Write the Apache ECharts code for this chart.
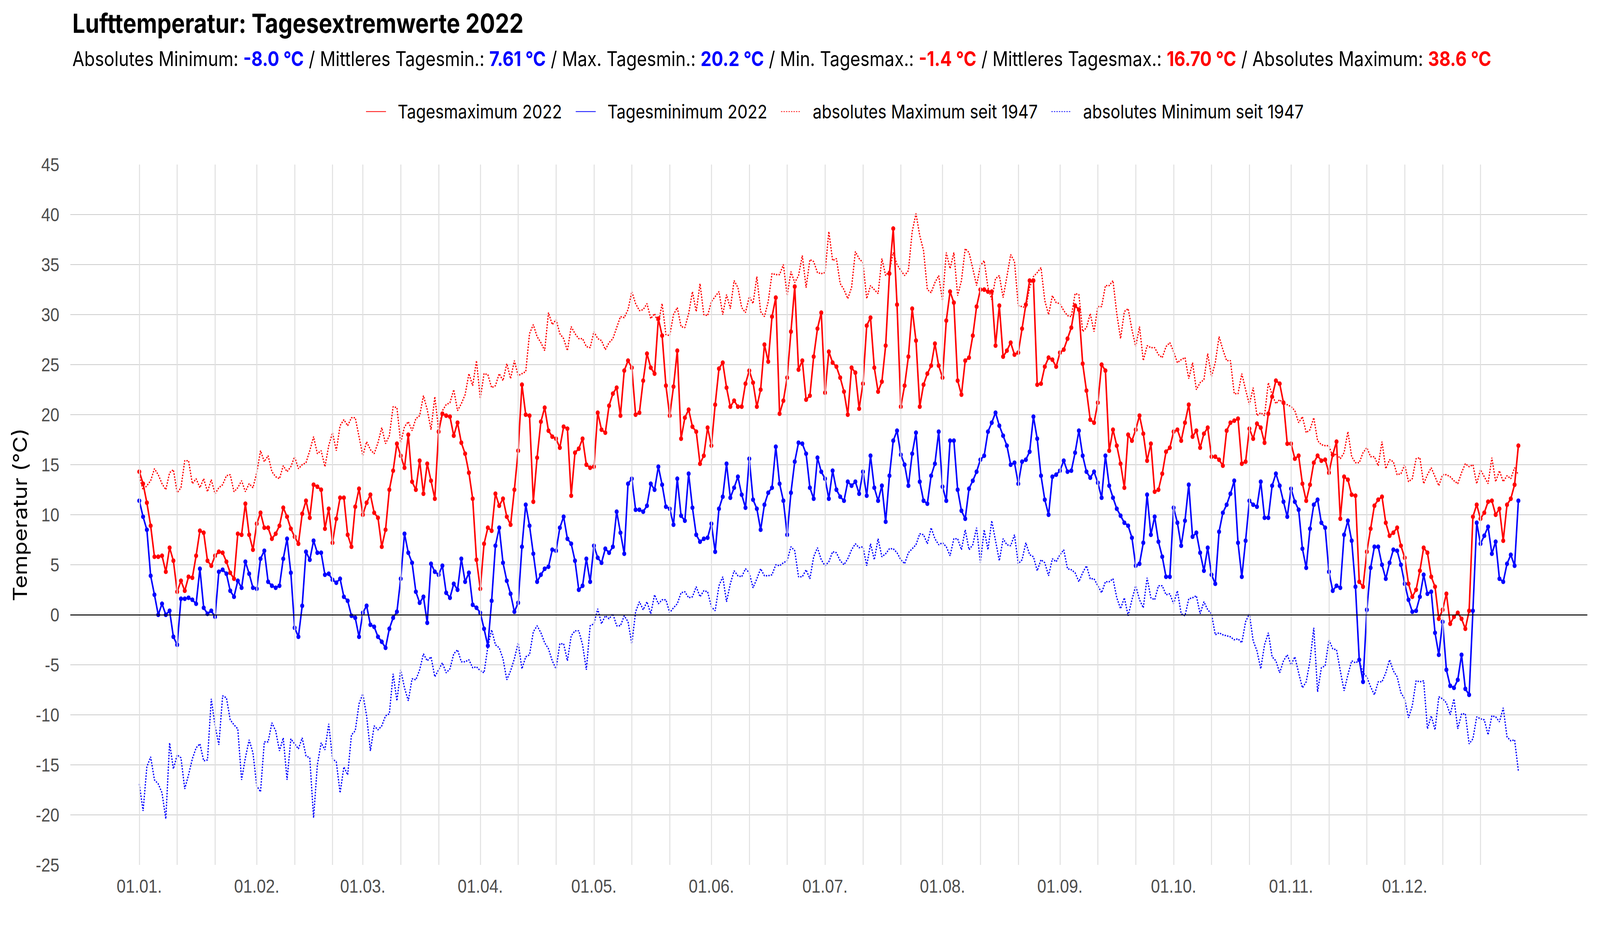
<!DOCTYPE html>
<html>
<head>
<meta charset="utf-8">
<script src="https://cdn.jsdelivr.net/npm/echarts@6/dist/echarts.min.js"></script>
<style>
html,body{margin:0;padding:0;background:#fff;overflow:hidden;}
#chart{width:4800px;height:2400px;transform-origin:0 0;}
</style>
</head>
<body>
<div id="chart"></div>
<script>
// ---- Data (day index 0 = 01.01.2022) ----
const tagesMaximum = [
14.3,13.1,11.2,8.9,5.8,5.8,5.9,4.3,6.7,5.4,
2.3,3.4,2.4,3.8,3.7,5.9,8.4,8.2,5.4,4.9,
5.9,6.3,6.2,5.3,4.2,3.6,8.1,8.0,11.1,8.0,
6.5,9.1,10.2,8.7,8.7,7.6,8.1,8.9,10.7,9.8,
8.6,7.8,7.1,10.1,11.4,9.7,13.0,12.8,12.5,8.6,
10.6,7.2,9.6,11.7,11.7,8.0,6.8,10.8,12.6,10.0,
11.2,12.0,10.2,9.7,6.8,8.5,12.5,14.4,17.1,15.9,
14.7,18.0,13.3,12.5,15.4,
12.1,15.1,13.4,11.6,18.3,20.1,19.9,19.8,17.9,19.2,
17.2,16.1,14.2,11.6,5.5,2.6,7.1,8.7,8.4,12.1,
10.9,11.6,9.8,9.0,12.5,16.4,23.0,20.0,19.9,11.3,
15.7,19.3,20.7,18.4,17.8,17.6,16.7,18.8,18.6,11.9,
16.2,16.6,17.6,15.0,14.7,14.8,20.2,18.5,18.2,20.9,
22.1,22.7,19.9,24.4,25.4,24.7,20.0,20.2,23.4,26.1,
24.7,24.1,29.6,27.9,22.9,19.9,22.8,26.4,17.6,19.7,
20.5,18.8,18.3,15.1,15.9,
18.7,16.9,21.0,24.6,25.2,22.7,20.8,21.4,20.8,20.8,
23.1,24.4,23.2,20.8,22.5,27.0,25.3,29.8,31.7,20.1,
21.4,23.7,28.3,32.8,24.5,25.4,21.5,21.9,25.8,28.6,
30.2,22.2,26.3,25.2,24.8,23.7,22.3,20.0,24.7,24.2,
20.6,23.1,28.9,29.7,24.7,22.3,23.3,26.9,34.1,38.6,
31.0,20.8,22.9,25.8,30.6,27.4,20.8,23.0,24.1,24.9,
27.1,24.9,23.7,29.4,32.3,31.2,23.4,22.0,25.4,25.7,
27.9,30.8,32.5,32.5,32.3,
32.3,26.9,30.9,25.8,26.4,27.2,26.0,26.2,28.6,31.0,
33.4,33.4,23.0,23.1,24.8,25.7,25.5,24.8,26.2,26.5,
27.6,28.7,30.9,30.5,25.1,22.4,19.5,19.2,21.2,25.0,
24.4,16.4,18.5,16.9,15.1,12.7,18.0,17.4,18.5,19.9,
18.1,15.4,17.1,12.3,12.5,14.1,16.3,16.7,18.3,18.5,
17.4,19.2,21.0,17.8,18.4,16.7,18.1,18.7,15.8,15.8,
15.5,14.9,18.4,19.2,19.4,19.6,15.1,15.3,18.6,17.6,
19.1,18.7,17.2,20.1,21.8,
23.4,23.1,21.2,17.1,17.1,15.6,15.9,13.1,11.4,13.0,
15.2,15.9,15.4,15.5,14.2,16.0,17.3,9.6,13.8,13.5,
12.0,11.9,3.3,2.8,6.3,8.6,10.9,11.5,11.8,9.2,
7.9,8.2,8.7,6.9,5.7,3.1,1.8,2.5,4.4,6.7,
6.2,3.8,2.8,-0.4,0.5,2.1,-0.9,-0.2,0.2,-0.4,
-1.4,0.4,9.8,11.0,9.6,10.2,11.3,11.4,10.0,10.6,
7.4,11.0,11.6,13.0,16.9
];
const tagesMinimum = [
11.4,9.8,8.5,3.9,2.0,0.0,1.1,0.0,0.4,-2.2,
-3.0,1.6,1.6,1.7,1.5,1.1,4.6,0.7,0.1,0.4,
-0.2,4.3,4.5,4.1,2.4,1.8,3.4,2.7,5.3,4.1,
2.7,2.6,5.6,6.4,3.3,2.9,2.7,2.9,5.6,7.6,
4.2,-1.3,-2.2,0.9,6.3,5.5,7.4,6.2,6.2,4.0,
4.1,3.5,3.2,3.6,1.8,1.4,-0.1,-0.3,-2.2,0.2,
0.9,-1.0,-1.2,-2.2,-2.7,-3.3,-1.4,-0.3,0.3,3.6,
8.1,6.2,5.2,2.3,1.2,
1.8,-0.8,5.1,4.3,4.0,4.9,2.2,1.7,3.1,2.5,
5.6,3.3,4.2,1.0,0.7,0.2,-1.4,-3.1,1.4,6.9,
8.7,5.2,3.4,2.1,0.3,1.2,6.8,11.0,8.9,6.1,
3.3,4.0,4.6,4.8,6.5,6.4,8.7,9.8,7.6,7.1,
5.4,2.5,2.9,5.6,3.3,6.9,5.7,5.2,6.6,6.2,
6.8,10.3,8.2,6.1,13.1,13.6,10.5,10.5,10.3,10.9,
13.1,12.5,14.8,13.0,10.8,10.6,9.0,13.6,9.9,9.4,
14.1,10.7,8.0,7.3,7.6,
7.7,9.1,6.3,10.6,11.8,15.1,11.7,12.7,13.8,12.0,
10.7,15.6,11.5,10.6,8.5,11.0,12.2,12.7,16.8,13.1,
11.4,8.0,12.2,15.3,17.2,17.1,16.1,12.7,11.6,15.7,
14.3,13.6,11.6,14.4,12.5,11.8,11.4,13.3,12.9,13.3,
12.1,14.3,11.9,15.9,12.7,11.4,12.9,9.3,13.9,17.4,
18.4,16.0,15.0,12.9,16.1,18.2,13.3,11.4,11.1,13.9,
15.1,18.3,12.8,11.4,17.4,17.4,12.5,10.4,9.6,12.6,
13.4,14.3,15.5,15.9,18.3,
19.2,20.2,18.9,17.9,16.9,15.0,15.2,13.1,15.3,15.5,
16.3,19.8,17.6,13.9,11.5,10.0,13.8,14.0,14.4,15.4,
14.3,14.4,16.2,18.4,15.9,14.3,13.7,14.3,13.2,11.7,
15.9,12.9,11.7,10.6,9.9,9.2,8.9,7.7,4.9,5.1,
7.2,12.0,8.0,9.8,7.3,5.8,3.8,3.8,10.7,9.2,
6.9,9.4,13.0,7.8,8.2,6.2,4.4,6.7,4.0,3.1,
8.3,10.2,11.0,12.1,13.4,7.2,3.8,7.4,11.4,11.0,
10.8,13.3,9.7,9.7,12.9,
14.1,12.9,11.3,9.8,12.6,11.3,10.5,6.6,4.7,8.6,
11.0,11.5,9.2,8.7,4.3,2.4,2.9,2.7,8.0,9.4,
7.4,2.8,-4.5,-6.7,0.5,4.7,6.8,6.8,5.0,3.6,
5.2,6.5,6.4,5.0,3.1,1.5,0.3,0.4,1.8,4.0,
2.1,2.3,-1.8,-4.0,-0.7,-5.5,-7.1,-7.3,-6.5,-4.0,
-7.4,-8.0,0.4,9.2,7.1,7.9,8.8,6.1,7.3,3.6,
3.3,5.1,6.0,4.9,11.4
];
const absMaximum = [
13.8,12.5,12.9,13.4,14.6,14.0,13.1,12.5,14.2,14.5,
12.2,12.7,15.4,15.4,13.1,13.6,12.7,13.6,12.3,13.5,
12.1,12.7,13.0,13.9,14.0,12.3,12.7,13.4,12.3,13.1,
12.7,14.2,16.4,15.3,15.9,14.3,13.8,13.6,14.9,14.3,
14.8,15.8,14.6,15.0,15.2,16.4,17.8,16.1,16.4,14.8,
16.9,18.2,16.4,18.9,19.5,18.9,19.7,19.7,17.8,15.9,
17.3,16.5,16.1,17.2,18.7,17.1,17.9,20.8,20.7,17.2,
18.8,19.3,18.4,19.6,19.9,
21.9,20.5,18.5,21.8,18.5,20.4,21.0,21.2,22.5,20.4,
21.1,22.0,24.1,22.9,25.4,21.6,24.1,24.0,22.7,22.9,
24.1,23.4,25.1,23.6,25.4,23.9,24.1,24.3,28.1,29.0,
27.8,27.2,26.4,30.2,29.0,29.5,28.1,27.6,26.4,28.8,
28.1,27.6,27.6,26.8,26.7,28.3,27.6,27.4,26.5,27.2,
27.6,28.7,29.8,29.7,30.5,32.3,31.1,30.4,30.5,31.1,
29.6,30.1,29.1,31.1,28.0,27.9,30.0,30.7,28.8,28.7,
30.1,32.3,30.3,33.1,30.0,
29.9,31.3,31.8,32.3,30.0,32.0,30.6,33.4,32.7,30.7,
30.2,31.8,31.1,33.8,30.3,29.8,31.3,34.1,34.0,34.0,
35.0,31.9,34.3,33.2,33.9,35.9,32.7,35.5,35.3,34.2,
34.1,34.2,38.3,35.4,35.6,33.1,32.5,31.6,32.7,36.3,
35.6,35.2,31.6,32.9,32.5,32.1,35.6,33.9,34.4,36.2,
35.0,34.4,33.9,34.4,38.3,40.1,37.9,36.4,32.5,32.2,
33.2,33.9,31.4,36.2,34.6,36.2,31.9,33.4,36.6,36.2,
34.6,32.9,34.9,35.4,32.7,
31.5,33.6,33.9,31.7,33.8,36.0,35.3,30.9,30.8,30.7,
32.7,33.8,34.2,34.7,31.4,30.0,31.9,31.2,31.1,30.4,
29.9,29.8,32.1,32.0,28.3,28.7,30.1,28.3,30.8,30.8,
32.9,32.9,33.4,30.1,27.6,30.3,30.6,28.5,26.8,28.8,
25.4,26.9,26.7,26.7,26.0,25.7,26.8,27.2,26.3,25.2,
25.5,25.7,23.6,25.2,22.5,23.2,23.5,26.1,23.8,25.2,
27.8,26.5,25.4,25.4,22.1,22.1,24.1,22.5,21.0,22.7,
19.9,20.2,19.9,23.2,22.0,
21.1,21.5,21.1,21.0,20.8,20.4,19.2,19.8,18.2,18.5,
19.7,17.4,17.0,16.9,16.9,15.8,16.1,15.6,16.2,18.3,
15.8,15.2,15.2,16.2,16.7,15.8,15.8,14.9,17.3,14.6,
15.5,15.3,14.0,14.1,15.0,13.3,13.6,15.6,15.7,13.1,
14.0,14.7,13.8,12.9,14.0,14.0,13.8,13.4,13.1,14.2,
15.1,14.8,15.0,13.1,14.5,13.8,13.1,15.7,13.3,14.4,
13.3,13.9,13.6,14.7,14.0
];
const absMinimum = [
-16.9,-19.6,-15.2,-14.2,-16.5,-16.9,-17.8,-20.4,-12.8,-15.4,
-14.0,-14.3,-17.4,-16.0,-14.4,-13.3,-12.9,-14.6,-14.5,-8.4,
-11.1,-13.0,-8.1,-8.3,-10.5,-11.0,-11.4,-16.5,-14.3,-12.5,
-13.8,-17.1,-17.7,-12.7,-12.7,-10.8,-11.6,-13.6,-12.3,-16.5,
-12.4,-12.9,-13.4,-12.3,-14.1,-14.3,-20.3,-15.0,-12.8,-13.5,
-10.9,-14.4,-14.7,-17.8,-15.2,-16.0,-12.0,-11.6,-8.9,-7.9,
-10.1,-13.6,-11.1,-11.5,-11.1,-10.1,-9.9,-5.9,-8.6,-5.5,
-7.3,-8.6,-6.4,-6.5,-5.5,
-3.9,-4.6,-4.2,-6.2,-5.5,-4.8,-5.8,-5.4,-3.9,-3.5,
-4.7,-4.7,-4.5,-5.3,-5.2,-5.6,-5.8,-3.2,-1.5,-3.0,
-3.3,-4.4,-6.5,-5.6,-4.4,-2.8,-5.4,-4.2,-4.0,-1.7,
-1.1,-1.8,-2.8,-3.4,-4.6,-5.4,-2.9,-2.9,-4.6,-2.1,
-1.6,-1.6,-3.0,-5.5,-1.1,-0.9,0.6,-0.9,-0.1,-0.4,
0.1,-1.1,-1.1,-0.1,-0.7,-2.9,0.3,1.3,0.5,1.3,
0.1,2.0,1.1,1.5,1.5,0.2,0.7,1.1,2.2,2.3,
1.7,1.8,2.8,1.8,2.4,
2.3,0.8,0.4,2.9,3.8,1.3,3.1,4.4,3.9,3.8,
4.6,4.2,2.7,3.6,4.6,3.9,3.9,4.0,5.0,4.9,
5.2,5.4,6.8,6.4,3.8,3.8,4.5,3.6,5.8,6.7,
5.5,4.9,5.3,6.3,6.2,5.4,5.0,5.6,6.5,7.1,
6.7,6.8,4.9,7.1,5.5,7.6,5.8,6.1,6.6,6.6,
6.2,5.5,5.1,6.2,6.6,7.0,8.1,8.0,7.1,8.7,
7.6,7.0,7.2,6.8,5.9,7.6,7.6,6.5,8.5,6.5,
7.0,8.7,5.2,8.5,6.5,
9.4,7.4,5.4,7.6,7.0,6.9,8.0,5.1,5.5,7.2,
6.0,5.8,4.4,5.5,5.2,3.9,5.6,5.3,6.0,6.5,
4.6,4.5,4.2,3.3,4.2,4.9,3.6,3.6,2.9,2.2,
3.3,3.3,3.6,1.7,0.6,1.7,-0.1,1.5,2.9,1.5,
0.7,3.7,1.7,1.5,2.9,2.9,2.0,2.1,1.1,2.4,
0.1,-0.1,1.6,1.7,1.9,0.1,1.3,0.5,0.1,-2.0,
-1.8,-2.0,-2.1,-2.2,-2.5,-2.4,-2.8,-0.7,0.1,-2.6,
-3.6,-5.4,-3.0,-1.8,-4.2,
-4.6,-5.8,-4.6,-4.0,-5.0,-4.2,-5.8,-7.3,-6.7,-4.6,
-1.3,-7.7,-5.3,-5.1,-2.5,-3.4,-3.5,-5.6,-7.6,-6.0,
-4.6,-4.8,-4.6,-5.8,-6.2,-7.2,-8.0,-6.7,-6.7,-5.8,
-4.5,-5.6,-6.2,-7.8,-8.4,-10.3,-9.1,-6.6,-6.7,-6.6,
-11.4,-10.1,-11.5,-8.2,-8.4,-8.8,-10.0,-8.4,-11.4,-9.9,
-9.9,-12.9,-12.4,-10.2,-10.4,-10.5,-12.0,-10.1,-10.2,-10.7,
-9.3,-12.2,-12.6,-12.5,-15.6
];
const seriesNames = ['Tagesmaximum 2022','Tagesminimum 2022','absolutes Maximum seit 1947','absolutes Minimum seit 1947'];
const monthStartDays = [0,31,59,90,120,151,181,212,243,273,304,334];
const monthLabels = ['01.01.','01.02.','01.03.','01.04.','01.05.','01.06.','01.07.','01.08.','01.09.','01.10.','01.11.','01.12.'];
const gridDays = [0,10,20,31,41,51,59,69,79,90,100,110,120,130,140,151,161,171,181,191,201,212,222,232,243,253,263,273,283,293,304,314,324,334,344,354];
const titleText = 'Lufttemperatur: Tagesextremwerte 2022';
const statLabels = ['Absolutes Minimum: ',' / Mittleres Tagesmin.: ',' / Max. Tagesmin.: ',' / Min. Tagesmax.: ',' / Mittleres Tagesmax.: ',' / Absolutes Maximum: '];
const statValues = ['-8.0 °C','7.61 °C','20.2 °C','-1.4 °C','16.70 °C','38.6 °C'];
const statColors = ['b','b','b','r','r','r'];
const yAxisTitle = 'Temperatur (°C)';

// ---- Fit the 4800x2400 design into the actual window ----
const el = document.getElementById('chart');
const W = window.innerWidth || 4800, H = window.innerHeight || 2400;
el.style.transform = 'scale(' + (W / 4800) + ',' + (H / 2400) + ')';

// ---- Build ----
const toXY = arr => arr.map((v, i) => [i, v]);
let sub = '';
statLabels.forEach((l, i) => { sub += '{n|' + l + '}{' + statColors[i] + '|' + statValues[i] + '}'; });

const TXT = 'Inter';
const AX = 'Liberation Sans';
const SUBF = 52;
const chart = echarts.init(el, null, {renderer: 'svg', width: 4800, height: 2400});
chart.setOption({
  animation: false,
  backgroundColor: '#ffffff',
  title: [
    {text: titleText, left: 212, top: 20, textStyle: {fontFamily: TXT, fontWeight: 'bold', fontSize: 68, color: '#000'}},
    {text: sub, left: 212, top: 119, textStyle: {fontFamily: TXT, fontWeight: 'normal', fontSize: SUBF, color: '#000',
      rich: {
        n: {fontFamily: TXT, fontSize: SUBF, color: '#000', fontWeight: 'normal'},
        b: {fontFamily: TXT, fontSize: SUBF, color: '#0000ff', fontWeight: 'bold'},
        r: {fontFamily: TXT, fontSize: SUBF, color: '#ff0000', fontWeight: 'bold'}
      }}}
  ],
  legend: {
    data: seriesNames,
    left: 1092, top: 256,
    itemWidth: 60, itemHeight: 44, itemGap: 40,
    itemStyle: {opacity: 0},
    textStyle: {fontFamily: TXT, fontSize: 48.5, color: '#000', padding: [0, 0, 0, 30]}
  },
  grid: {left: 211, right: 38, top: 421, bottom: 187, containLabel: false},
  xAxis: {
    type: 'value', min: -18.2, max: 382.2,
    axisLine: {show: false}, axisTick: {show: false},
    splitLine: {show: false},
    axisLabel: {
      customValues: monthStartDays,
      formatter: v => monthLabels[monthStartDays.indexOf(Math.round(v))] || '',
      fontFamily: AX, fontSize: 49, color: '#4d4d4d', margin: 30
    }
  },
  yAxis: {
    type: 'value', min: -25, max: 45, interval: 5,
    name: yAxisTitle, nameLocation: 'middle', nameGap: 122,
    nameTextStyle: {fontFamily: TXT, fontSize: 58, color: '#000'},
    axisLine: {show: false}, axisTick: {show: false},
    axisLabel: {fontFamily: AX, fontSize: 49, color: '#4d4d4d', margin: 33},
    splitLine: {show: true, showMinLine: false, showMaxLine: false, lineStyle: {color: '#cccccc', width: 2}}
  },
  series: [
    {
      name: 'grid', type: 'line', data: [], z: 1, silent: true,
      markLine: {
        silent: true, symbol: ['none', 'none'], animation: false,
        label: {show: false},
        data: gridDays.map(d => ({xAxis: d, lineStyle: {color: '#e0e0e0', width: 3, type: 'solid'}}))
          .concat([{yAxis: 0, lineStyle: {color: '#000000', width: 2.5, type: 'solid'}}])
      }
    },
    {
      name: seriesNames[2], type: 'line', data: toXY(absMaximum), z: 2,
      showSymbol: false, symbol: 'none',
      lineStyle: {color: '#ff0000', width: 3.6, type: [4, 3.5], cap: 'butt'},
      itemStyle: {color: '#ff0000'}
    },
    {
      name: seriesNames[3], type: 'line', data: toXY(absMinimum), z: 2,
      showSymbol: false, symbol: 'none',
      lineStyle: {color: '#0000ff', width: 3.6, type: [4, 3.5], cap: 'butt'},
      itemStyle: {color: '#0000ff'}
    },
    {
      name: seriesNames[0], type: 'line', data: toXY(tagesMaximum), z: 3,
      symbol: 'circle', symbolSize: 12, showAllSymbol: true,
      lineStyle: {color: '#ff0000', width: 4.6},
      itemStyle: {color: '#ff0000'}
    },
    {
      name: seriesNames[1], type: 'line', data: toXY(tagesMinimum), z: 3,
      symbol: 'circle', symbolSize: 12, showAllSymbol: true,
      lineStyle: {color: '#0000ff', width: 4.6},
      itemStyle: {color: '#0000ff'}
    }
  ]
});
</script>
</body>
</html>
